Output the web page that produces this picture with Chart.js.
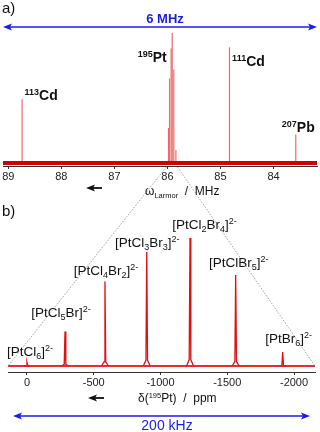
<!DOCTYPE html>
<html>
<head>
<meta charset="utf-8">
<script src="https://cdn.jsdelivr.net/npm/chart.js@4/dist/chart.umd.min.js"></script>
<style>
  html, body { margin: 0; padding: 0; background: #fff; }
  #wrap { position: relative; width: 320px; height: 432px; overflow: hidden;
          font-family: "Liberation Sans", Arial, sans-serif; color: #111; }
  canvas { position: absolute; left: 0; top: 0; }
  .lbl { position: absolute; white-space: nowrap; line-height: 1; z-index: 5; }
  .lbl sup, .lbl sub { line-height: 0; }
  .iso { font-weight: bold; font-size: 14px; }
  .iso sup { font-size: 9px; vertical-align: 5px; }
  .cpx { font-size: 13.5px; }
  .cpx sub { font-size: 9px; vertical-align: -3px; }
  .cpx sup { font-size: 9px; vertical-align: 5px; }
  .ttl { font-size: 12px; }
  .ttl sub { font-size: 7.5px; vertical-align: -3px; }
  .ttl sup { font-size: 7.5px; vertical-align: 4px; }
  .pan { font-size: 15px; }
</style>
</head>
<body>
<div id="wrap">
  <canvas id="chartA" width="320" height="200"></canvas>
  <canvas id="chartB" width="320" height="432"></canvas>
</div>
<script>
// a) espectro completo, frecuencia en MHz
const aRange = [83.18, 89.10];
const aTicks = [89, 88, 87, 86, 85, 84];
const aPeakMHz = [88.74, 85.98, 85.96, 85.93, 85.91, 85.88, 85.84, 84.83, 83.58];
const aPeakHeight = [49, 27, 65, 88, 100, 72, 10, 89, 22];
// etiquetas de isotopos (ancladas al pico que nombran)
const isoMass = ["113", "195", "111", "207"];
const isoSym = ["Cd", "Pt", "Cd", "Pb"];
const isoPeak = [0, 4, 7, 8];
// zona ampliada en b)
const zoomFrom = [86.02, 85.81];

// b) region del 195Pt, desplazamiento en ppm
const bRange = [-2157, 142];
const bTicks = [0, -500, -1000, -1500, -2000];
const bPeakPpm = [0, -285, -584, -897, -1221, -1563, -1915];
const bPeakHeight = [3, 27, 66, 89, 100, 71, 11];
const bNames = [
  "[PtCl<sub>6</sub>]<sup>2-</sup>",
  "[PtCl<sub>5</sub>Br]<sup>2-</sup>",
  "[PtCl<sub>4</sub>Br<sub>2</sub>]<sup>2-</sup>",
  "[PtCl<sub>3</sub>Br<sub>3</sub>]<sup>2-</sup>",
  "[PtCl<sub>2</sub>Br<sub>4</sub>]<sup>2-</sup>",
  "[PtClBr<sub>5</sub>]<sup>2-</sup>",
  "[PtBr<sub>6</sub>]<sup>2-</sup>"
];

const FONT = "'Liberation Sans', Arial, sans-serif";
const BLUE = "#1c1ce8";

// flecha horizontal con punta(s) rellenas
function arrow(ctx, x1, x2, y, color, width, both) {
  ctx.save();
  ctx.strokeStyle = color; ctx.fillStyle = color; ctx.lineWidth = width;
  ctx.beginPath(); ctx.moveTo(x1 + 5, y); ctx.lineTo(both ? x2 - 5 : x2, y); ctx.stroke();
  ctx.beginPath();
  ctx.moveTo(x1, y); ctx.lineTo(x1 + 9, y - 3.5); ctx.lineTo(x1 + 7, y); ctx.lineTo(x1 + 9, y + 3.5);
  ctx.closePath(); ctx.fill();
  if (both) {
    ctx.beginPath();
    ctx.moveTo(x2, y); ctx.lineTo(x2 - 9, y - 3.5); ctx.lineTo(x2 - 7, y); ctx.lineTo(x2 - 9, y + 3.5);
    ctx.closePath(); ctx.fill();
  }
  ctx.restore();
}

function xAxis(range, ticks, fmt) {
  return {
    type: "linear", reverse: true, min: range[0], max: range[1],
    afterBuildTicks: s => { s.ticks = ticks.map(v => ({ value: v })); },
    afterFit: s => { s.height = 16; },
    grid: { drawOnChartArea: false, drawTicks: true, tickLength: 3, color: "#333" },
    border: { color: "#333", width: 1 },
    ticks: { color: "#222", padding: 1, maxRotation: 0, autoSkip: false,
             font: { family: FONT, size: 11 }, callback: fmt }
  };
}

// ---------- a) ----------
const aSets = aPeakMHz.map((f, i) => ({
  data: [{ x: f, y: 0 }, { x: f, y: aPeakHeight[i] }],
  showLine: true, borderColor: "#ee6a6a", borderWidth: 1.2, pointRadius: 0
}));
aSets.unshift({
  data: [{ x: aRange[1], y: 0 }, { x: aRange[0], y: 0 }],
  showLine: true, borderColor: "#d20000", borderWidth: 4, pointRadius: 0
});

const plotA = {
  id: "decoA",
  afterDraw(chart) {
    const a = chart.chartArea;
    arrow(chart.ctx, a.left, a.right, 27, BLUE, 1.6, true);
    arrow(chart.ctx, a.left + 83, a.left + 99, 188, "#111", 1.8, false);
  }
};

const chartA = new Chart(document.getElementById("chartA"), {
  type: "scatter",
  data: { datasets: aSets },
  options: {
    responsive: false, animation: false, devicePixelRatio: 1,
    layout: { padding: { top: 30, left: 3, right: 3, bottom: 18 } },
    plugins: { legend: { display: false }, tooltip: { enabled: false } },
    scales: {
      x: xAxis(aRange, aTicks, v => String(v)),
      y: { display: false, min: -2.31, max: 102.3 }
    }
  },
  plugins: [plotA]
});

// ---------- b) ----------
const bSets = bPeakPpm.map((p, i) => {
  const h = bPeakHeight[i], foot = h * 0.05;
  return {
    data: [{ x: p + 26, y: 0 }, { x: p + 6, y: foot }, { x: p, y: h },
           { x: p - 6, y: foot }, { x: p - 26, y: 0 }],
    showLine: true, borderColor: "#e01010", borderWidth: 1.3, pointRadius: 0
  };
});
bSets.unshift({
  data: [{ x: bRange[1], y: 0 }, { x: bRange[0], y: 0 }],
  showLine: true, borderColor: "rgba(226,24,24,0.9)", borderWidth: 2.2, pointRadius: 0
});

const plotB = {
  id: "decoB",
  afterDraw(chart) {
    const ctx = chart.ctx, a = chart.chartArea;
    const xa = chartA.scales.x, yBase = chart.scales.y.getPixelForValue(0);
    const top = chartA.chartArea.bottom + 1;
    ctx.save();
    ctx.strokeStyle = "#8c8c8c"; ctx.lineWidth = 0.8; ctx.setLineDash([1.5, 1.5]);
    ctx.beginPath();
    ctx.moveTo(xa.getPixelForValue(zoomFrom[0]), top); ctx.lineTo(a.left, yBase);
    ctx.moveTo(xa.getPixelForValue(zoomFrom[1]), top); ctx.lineTo(a.right, yBase);
    ctx.stroke();
    ctx.restore();
    arrow(ctx, a.left + 5, a.right - 5, 416, BLUE, 1.6, true);
    arrow(ctx, a.left + 80, a.left + 96, 398, "#111", 1.8, false);
  }
};

const chartB = new Chart(document.getElementById("chartB"), {
  type: "scatter",
  data: { datasets: bSets },
  options: {
    responsive: false, animation: false, devicePixelRatio: 1,
    layout: { padding: { top: 200, left: 8, right: 5, bottom: 44 } },
    plugins: { legend: { display: false }, tooltip: { enabled: false } },
    scales: {
      x: xAxis(bRange, bTicks, v => String(v)),
      y: { display: false, min: -4.69, max: 129.7 }
    }
  },
  plugins: [plotB]
});

// ---------- textos ----------
const wrap = document.getElementById("wrap");
function place(html, cls, x, y, anchor, style) {
  const d = document.createElement("div");
  d.className = "lbl " + cls;
  d.innerHTML = html;
  d.style.left = x + "px"; d.style.top = y + "px";
  d.style.transform = anchor === "l" ? "translateY(-50%)" : "translate(-50%,-50%)";
  if (style) Object.assign(d.style, style);
  wrap.appendChild(d);
}

place("a)", "pan", 2, 7, "l");
place("b)", "pan", 2, 210, "l");
place("6 MHz", "", 165, 18, "c", { color: BLUE, fontWeight: "bold", fontSize: "13px" });
place("200 kHz", "", 167, 425, "c", { color: BLUE, fontSize: "14px" });
place("ω<sub>Larmor</sub>&nbsp; / &nbsp;MHz", "ttl", 145, 191, "l");
place("δ(<sup>195</sup>Pt) &nbsp;/ &nbsp;ppm", "ttl", 138, 398, "l");

// isotopos: desplazamiento del centro de la etiqueta respecto a la punta del pico
const isoOff = [[19, -4], [-20, 24.5], [19, 13.5], [2.5, -7.5]];
isoPeak.forEach((k, i) => {
  const px = chartA.scales.x.getPixelForValue(aPeakMHz[k]);
  const py = chartA.scales.y.getPixelForValue(aPeakHeight[k]);
  place("<sup>" + isoMass[i] + "</sup>" + isoSym[i], "iso", px + isoOff[i][0], py + isoOff[i][1], "c");
});

// complejos de Pt en b)
const cpxOff = [[3, -10], [-4, -18], [1, -11], [0.5, -9], [14.5, -13], [3, -12], [6, -13]];
bPeakPpm.forEach((p, i) => {
  const px = chartB.scales.x.getPixelForValue(p);
  const py = chartB.scales.y.getPixelForValue(bPeakHeight[i]);
  place(bNames[i], "cpx", px + cpxOff[i][0], py + cpxOff[i][1], "c");
});
</script>
</body>
</html>
